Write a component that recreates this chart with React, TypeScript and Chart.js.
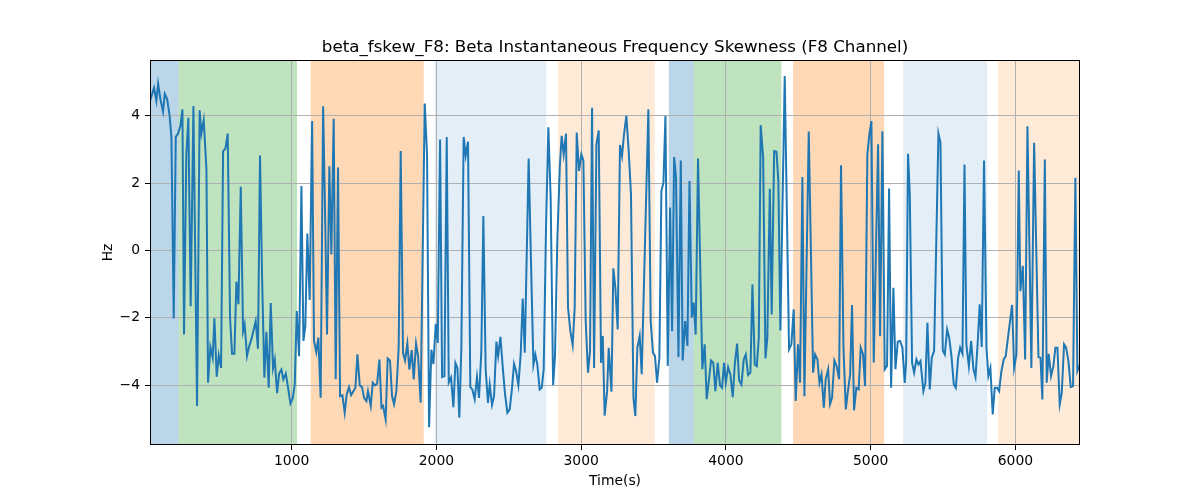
import React, { useEffect, useRef } from "react";
import { Chart, registerables } from "chart.js";

Chart.register(...registerables);

const TITLE = "beta_fskew_F8: Beta Instantaneous Frequency Skewness (F8 Channel)";
const X_LABEL = "Time(s)";
const Y_LABEL = "Hz";
const X_TICKS = [1000, 2000, 3000, 4000, 5000, 6000];
const Y_TICKS = [-4, -2, 0, 2, 4];
const X_MIN = 21;
const X_MAX = 6446;
const Y_MIN = -5.78;
const Y_MAX = 5.655;

const timeSec = [
  21, 49, 65, 77, 93, 111, 123, 139, 157, 169, 185, 199, 215, 231, 245, 256, 272, 286, 302, 321,
  346, 364, 376, 392, 411, 422, 438, 454, 466, 482, 496, 512, 526, 542, 558, 574, 588, 604, 618, 632,
  648, 664, 675, 691, 706, 721, 751, 767, 781, 795, 811, 825, 841, 855, 871, 883, 899, 913, 929, 942,
  959, 975, 991, 1007, 1021, 1035, 1051, 1067, 1081,
  1094, 1108, 1124, 1141, 1154, 1170, 1184, 1200, 1217, 1230, 1244, 1260, 1274, 1290, 1304, 1320, 1334, 1350, 1366, 1380,
  1396, 1410, 1426, 1440, 1454, 1470, 1486, 1500, 1516, 1527, 1546, 1560, 1576, 1590, 1606, 1620, 1631, 1649, 1663, 1679,
  1693, 1707, 1723, 1739, 1753, 1769, 1783, 1799, 1813, 1829, 1843, 1859, 1873, 1891, 1919, 1935, 1949, 1965, 1979, 1995,
  2009, 2025, 2039, 2055, 2071, 2085, 2101, 2117,
  2131, 2145, 2158, 2172, 2188, 2202, 2218, 2234, 2248, 2264, 2280, 2294, 2310, 2324, 2340, 2356, 2368, 2384, 2398, 2414,
  2426, 2442, 2460, 2474, 2490, 2506, 2520, 2536, 2550, 2566, 2582, 2596, 2610, 2637, 2654, 2670, 2683, 2697, 2713, 2727,
  2741, 2757, 2773, 2789, 2806, 2819, 2835, 2852, 2865, 2879, 2895, 2909, 2925, 2941, 2955, 2969, 2985, 3001, 3015, 3031,
  3047, 3061, 3075, 3089, 3105, 3121, 3137, 3149, 3162,
  3179, 3190, 3209, 3222, 3236, 3252, 3268, 3282, 3296, 3312, 3328, 3344, 3361, 3374, 3388, 3404, 3418, 3464, 3480, 3496,
  3510, 3524, 3540, 3554, 3568, 3582, 3598, 3614, 3628, 3642, 3655, 3672, 3688, 3701, 3718, 3734, 3748, 3764, 3777, 3791,
  3807, 3837, 3853, 3867, 3883, 3897, 3913, 3927, 3943, 3959, 3973, 3987, 3999, 4015, 4031, 4047, 4061, 4077, 4091, 4107,
  4123, 4137, 4153, 4169, 4183, 4199,
  4213, 4227, 4240, 4257, 4273, 4286, 4303, 4316, 4333, 4349, 4362, 4376, 4406, 4436, 4452, 4468, 4482, 4498, 4512, 4528,
  4542, 4572, 4602, 4616, 4632, 4646, 4660, 4676, 4689, 4706, 4719, 4733, 4749, 4765, 4782, 4795, 4812, 4828, 4841, 4858,
  4871, 4885, 4901, 4917, 4931, 4947, 4961, 4977, 4991, 5005, 5021, 5051, 5065, 5081, 5097, 5113, 5127, 5141, 5157, 5171,
  5187, 5203, 5219, 5235,
  5245, 5258, 5270, 5286, 5300, 5316, 5330, 5344, 5364, 5378, 5392, 5408, 5422, 5438, 5468, 5482, 5498, 5512, 5528, 5542,
  5558, 5574, 5588, 5604, 5618, 5634, 5648, 5661, 5678, 5694, 5710, 5724, 5740, 5753, 5767, 5783, 5800, 5813, 5827, 5843,
  5857, 5873, 5887, 5903, 5919, 5933, 5949, 5977, 5991, 6007, 6023, 6034, 6051, 6067, 6083, 6110, 6129, 6159, 6173, 6186,
  6203, 6216, 6230, 6246, 6262, 6276, 6290, 6306, 6320, 6336, 6350, 6366, 6382, 6398, 6414, 6428, 6446,
];

const skewHz = [
  4.44, 4.83, 4.44, 4.95, 4.49, 4.12, 4.65, 4.5, 3.99, 3.35, -2.02, 3.37, 3.47, 3.7, 4.19, -2.5, 2.85, 3.94, -1.66, 4.29,
  -4.62, 4.16, 3.47, 3.87, 2.4, -3.93, -2.87, -3.19, -2.02, -3.75, -3.12, -3.49, 2.95, 3.02, 3.47, -2.0, -3.07, -3.07, -0.93, -1.6,
  1.89, -2.4, -2.2, -3.14, -2.85, -2.65, -2.1, -2.92, 2.82, -0.71, -3.78, -2.42, -4.08, -1.56, -3.5, -3.24, -4.24, -3.66, -3.54, -3.83,
  -3.66, -4.08, -4.55, -4.4, -3.98, -1.8, -3.14, 1.91, -2.69,
  -2.25, 0.5, -1.47, 3.84, -2.69, -3.02, -2.59, -4.38, 4.28, 1.27, -2.5, 2.5, -0.12, 3.91, -3.83, 2.46, -4.33, -4.3, -4.82, -4.28,
  -4.06, -4.3, -4.18, -4.08, -3.09, -4.01, -4.06, -4.38, -4.48, -4.18, -4.62, -3.93, -4.01, -3.96, -3.24, -4.67, -4.62, -5.02, -3.21, -3.27,
  -4.32, -4.57, -4.18, -2.89, 2.95, -3.04, -3.27, -2.77, -3.54, -2.96, -3.83, -2.77, -3.14, -4.52, 4.36, 2.85, -5.25, -2.95, -3.38, -2.18,
  -2.75, 3.29, -3.76, -3.73, 3.37, -3.92, -3.77, -4.66,
  -3.34, -3.49, -4.97, -2.89, 3.37, 2.81, 3.23, -4.06, -4.13, -4.42, -3.76, -4.38, -3.0, 1.02, -3.54, -4.53, -3.98, -4.59, -4.33, -2.71,
  -3.14, -2.57, -3.58, -4.28, -4.82, -4.72, -4.18, -3.37, -3.58, -4.0, -3.09, -1.43, -3.04, 2.73, -0.51, -3.39, -3.09, -3.39, -4.13, -4.08,
  -3.53, 0.67, 3.66, 1.56, -4.0, -3.14, 0.3, 2.46, 3.4, 2.85, 3.47, -1.7, -2.4, -2.81, -1.7, 3.5, 2.36, 2.85, 2.67, -2.09,
  -3.63, -2.99, 4.24, -3.49, 3.15, 3.56, -3.34, -2.54, -4.91,
  -4.18, -2.89, -4.2, -0.53, -1.11, -2.35, 3.13, 2.8, 3.45, 4.0, 2.95, 1.66, -4.38, -4.92, -2.89, -2.54, -3.68, 4.19, -2.1, -3.04,
  -3.14, -3.93, -3.19, 1.76, 2.01, 3.99, -3.43, 1.27, -2.4, 2.77, 2.16, -3.17, 2.67, -3.27, -2.1, -2.84, 2.06, -1.99, -1.55, -2.5,
  2.73, -3.53, -2.79, -4.42, -3.83, -3.27, -3.34, -4.18, -3.34, -4.01, -4.08, -3.34, -3.93, -3.47, -3.69, -4.36, -3.39, -2.77, -3.86, -3.98,
  -3.24, -3.09, -3.7, -3.63, -1.01, -3.39,
  -3.44, -2.59, 3.72, 2.75, -3.21, -2.59, 1.83, -1.9, 2.95, 2.93, 2.06, -2.38, 5.18, -2.94, -2.79, -1.75, -4.47, -2.79, -3.93, 2.18,
  -4.33, 3.53, -3.63, -3.09, -3.24, -3.93, -3.68, -4.67, -3.83, -3.53, -4.57, -4.38, -3.27, -3.44, -3.83, 2.53, -2.9, -4.72, -4.23, -3.68,
  -1.62, -4.75, -4.08, -4.13, -2.89, -3.09, -4.03, 2.85, 3.45, 3.84, -3.33, 3.15, -2.55, 3.54, -3.53, -3.43, 1.84, -4.08, -1.11, -3.53,
  -2.71, -2.69, -2.89, -3.94,
  -3.29, 2.87, 1.66, -3.34, -3.63, -3.24, -3.39, -3.29, -4.18, -3.93, -2.15, -4.13, -3.19, -2.99, 3.47, 3.2, -2.97, -3.09, -2.35, -2.59,
  -3.14, -3.98, -4.08, -3.19, -2.89, -3.07, 2.55, -2.79, -3.44, -2.69, -3.53, -3.76, -2.69, -1.6, -2.87, 2.67, -2.89, -3.73, -3.49, -4.87,
  -4.08, -4.08, -4.18, -3.59, -3.24, -3.14, -2.57, -1.62, -3.49, -3.09, 2.37, -1.21, -0.46, -3.24, 3.69, -3.49, 3.2, -3.17, -3.19, -4.43,
  2.7, -3.93, -3.07, -3.73, -3.44, -2.89, -2.89, -4.57, -4.23, -2.79, -2.89, -3.29, -4.06, -4.03, 2.16, -3.59, -3.39,
];

const spanStart = [21, 219, 1131, 1988, 2840, 3605, 3777, 4464, 5224, 5880];
const spanEnd = [219, 1037, 1912, 2759, 3508, 3777, 4383, 5093, 5806, 6446];
const spanKind = ["blue", "green", "orange", "lightblue", "lightorange", "blue", "green", "orange", "lightblue", "lightorange"];

const SPAN_COLORS: Record<string, string> = {
  blue: "rgba(31,119,180,0.3)",
  green: "rgba(44,160,44,0.3)",
  orange: "rgba(255,127,14,0.3)",
  lightblue: "rgba(31,119,180,0.12)",
  lightorange: "rgba(255,127,14,0.16)",
};

const FONT = "'DejaVu Sans', sans-serif";

const fmt = (v: number) => (v < 0 ? "\u2212" + Math.abs(v) : String(v));

export default function App() {
  const canvasRef = useRef<HTMLCanvasElement | null>(null);

  useEffect(() => {
    const canvas = canvasRef.current;
    if (!canvas) return;

    const decor = {
      id: "decor",
      beforeDraw(chart: any) {
        const { ctx, chartArea: a } = chart;
        const xs = chart.scales.x;
        ctx.save();
        ctx.fillStyle = "#ffffff";
        ctx.fillRect(0, 0, chart.width, chart.height);
        for (let i = 0; i < spanStart.length; i++) {
          const x0 = xs.getPixelForValue(spanStart[i]);
          const x1 = xs.getPixelForValue(spanEnd[i]);
          ctx.fillStyle = SPAN_COLORS[spanKind[i]];
          ctx.fillRect(x0, a.top, x1 - x0, a.bottom - a.top);
        }
        ctx.restore();
      },
      afterDraw(chart: any) {
        const { ctx, chartArea: a } = chart;
        ctx.save();
        ctx.strokeStyle = "#000000";
        ctx.lineWidth = 1;
        ctx.strokeRect(Math.round(a.left) + 0.5, Math.round(a.top) + 0.5, Math.round(a.right - a.left) - 1, Math.round(a.bottom - a.top) - 1);
        ctx.fillStyle = "#000000";
        ctx.font = `16.7px ${FONT}`;
        ctx.textAlign = "center";
        ctx.textBaseline = "alphabetic";
        ctx.fillText(TITLE, (a.left + a.right) / 2, 51.5);
        ctx.restore();
      },
    };

    const chart = new Chart(canvas, {
      type: "line",
      data: {
        datasets: [
          {
            data: timeSec.map((t, i) => ({ x: t, y: skewHz[i] })),
            borderColor: "#1f77b4",
            backgroundColor: "#1f77b4",
            borderWidth: 2,
            pointRadius: 0,
            tension: 0,
            fill: false,
          },
        ],
      },
      options: {
        responsive: false,
        animation: false,
        devicePixelRatio: 1,
        layout: { padding: { top: 60, right: 120, left: 0, bottom: 0 } },
        plugins: { legend: { display: false }, tooltip: { enabled: false }, title: { display: false } },
        scales: {
          x: {
            type: "linear",
            min: X_MIN,
            max: X_MAX,
            afterBuildTicks: (s: any) => {
              s.ticks = X_TICKS.map((v) => ({ value: v }));
            },
            afterFit: (s: any) => {
              s.height = 55;
            },
            ticks: {
              autoSkip: false,
              maxRotation: 0,
              padding: 3,
              color: "#000000",
              font: { family: FONT, size: 13.9 },
              callback: (v: any) => fmt(Number(v)),
            },
            grid: { color: "#b0b0b0", lineWidth: 1, tickColor: "#000000", tickLength: 5, tickWidth: 1 },
            border: { display: false },
            title: {
              display: true,
              text: X_LABEL,
              color: "#000000",
              font: { family: FONT, size: 13.9 },
              padding: { top: 0, bottom: 10.6 },
            },
          },
          y: {
            type: "linear",
            min: Y_MIN,
            max: Y_MAX,
            afterBuildTicks: (s: any) => {
              s.ticks = Y_TICKS.map((v) => ({ value: v }));
            },
            afterFit: (s: any) => {
              s.width = 150;
            },
            ticks: {
              padding: 5,
              color: "#000000",
              font: { family: FONT, size: 13.9 },
              callback: (v: any) => fmt(Number(v)),
            },
            grid: { color: "#b0b0b0", lineWidth: 1, tickColor: "#000000", tickLength: 5, tickWidth: 1 },
            border: { display: false },
            title: {
              display: true,
              text: Y_LABEL,
              color: "#000000",
              font: { family: FONT, size: 13.9 },
              padding: { top: 99.6, bottom: 0 },
            },
          },
        },
      },
      plugins: [decor],
    });

    return () => chart.destroy();
  }, []);

  return (
    <div style={{ position: "absolute", left: 0, top: 0, width: 1200, height: 500, background: "#fff" }}>
      <canvas ref={canvasRef} width={1200} height={500} style={{ display: "block", width: 1200, height: 500 }} />
    </div>
  );
}
